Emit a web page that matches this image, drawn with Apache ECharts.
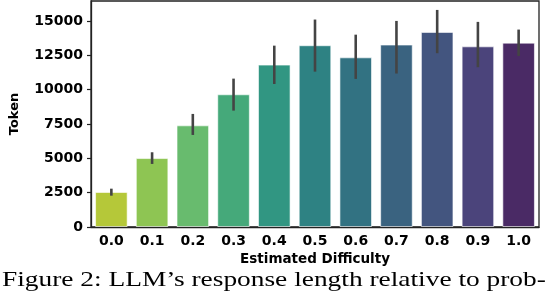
<!DOCTYPE html>
<html><head><meta charset="utf-8">
<script src="https://cdn.jsdelivr.net/npm/echarts@6/dist/echarts.min.js"></script>
<style>html,body{margin:0;padding:0;background:#fff}#c{width:554px;height:296px}</style>
</head><body><div id="c"></div>
<script>
const categories = ['0.0','0.1','0.2','0.3','0.4','0.5','0.6','0.7','0.8','0.9','1.0'];
const tokenMean = [2550, 5020, 7400, 9660, 11820, 13230, 12350, 13280, 14200, 13150, 13420];
const errLow = [2280, 4590, 6700, 8470, 10410, 11310, 10780, 11170, 12650, 11630, 12450];
const errHigh = [2790, 5440, 8230, 10800, 13200, 15100, 14000, 15000, 15800, 14930, 14370];
const barColors = ['#b5c839','#8ec553','#68bb6e','#45a97a','#319682','#2e8283','#327282','#3a6380','#43557f','#4b447b','#4a2a65'];
const yTicks = [0, 2500, 5000, 7500, 10000, 12500, 15000];
const caption = 'Figure 2: LLM\u2019s response length relative to prob-';

const chart = echarts.init(document.getElementById('c'), null, {renderer:'canvas'});
const font = 'DejaVu Sans';
chart.setOption({
  animation: false,
  graphic: [{
    type: 'text', left: 2, top: 269, scaleX: 1.245,
    style: {text: caption, font: '22px "Liberation Serif"', fill: '#000'}
  }],
  grid: {left: 86, right: 15, top: 1, bottom: 69, show: true, borderColor: '#222', borderWidth: 1.3, backgroundColor: 'transparent'},
  xAxis: {
    type: 'category', data: categories,
    name: 'Estimated Difficulty', nameLocation: 'middle', nameGap: 25,
    nameTextStyle: {fontFamily: font, fontWeight: 'bold', fontSize: 13.5, color: '#000'},
    axisLine: {lineStyle: {color: '#222', width: 1.3}},
    axisTick: {alignWithLabel: true, length: 4, lineStyle: {color: '#222', width: 1.2}},
    axisLabel: {fontFamily: font, fontWeight: 'bold', fontSize: 14, color: '#000', margin: 7}
  },
  yAxis: {
    type: 'value', min: 0, max: 16450, interval: 2500,
    name: 'Token', nameLocation: 'middle', nameGap: 70, nameRotate: 90,
    nameTextStyle: {fontFamily: font, fontWeight: 'bold', fontSize: 13, color: '#000'},
    axisLine: {show: true, lineStyle: {color: '#222', width: 1.3}},
    axisTick: {show: true, length: 4, lineStyle: {color: '#222', width: 1.2}},
    axisLabel: {fontFamily: font, fontWeight: 'bold', fontSize: 14, color: '#000', margin: 8, showMaxLabel: false,
      formatter: v => yTicks.includes(v) ? String(v) : ''},
    splitLine: {show: false}
  },
  series: [
    {
      type: 'bar', barCategoryGap: '20%',
      data: tokenMean.map((v, i) => ({value: v, itemStyle: {color: barColors[i]}})),
      itemStyle: {borderColor: 'rgba(255,255,255,0.6)', borderWidth: 1}
    },
    {
      type: 'custom', z: 10,
      data: categories.map((c, i) => [i, errLow[i], errHigh[i]]),
      renderItem: (params, api) => {
        const lo = api.coord([api.value(0), api.value(1)]);
        const hi = api.coord([api.value(0), api.value(2)]);
        return {type: 'line', shape: {x1: lo[0], y1: lo[1], x2: hi[0], y2: hi[1]},
          style: {stroke: '#444', lineWidth: 2.6}};
      }
    }
  ]
});
</script></body></html>
